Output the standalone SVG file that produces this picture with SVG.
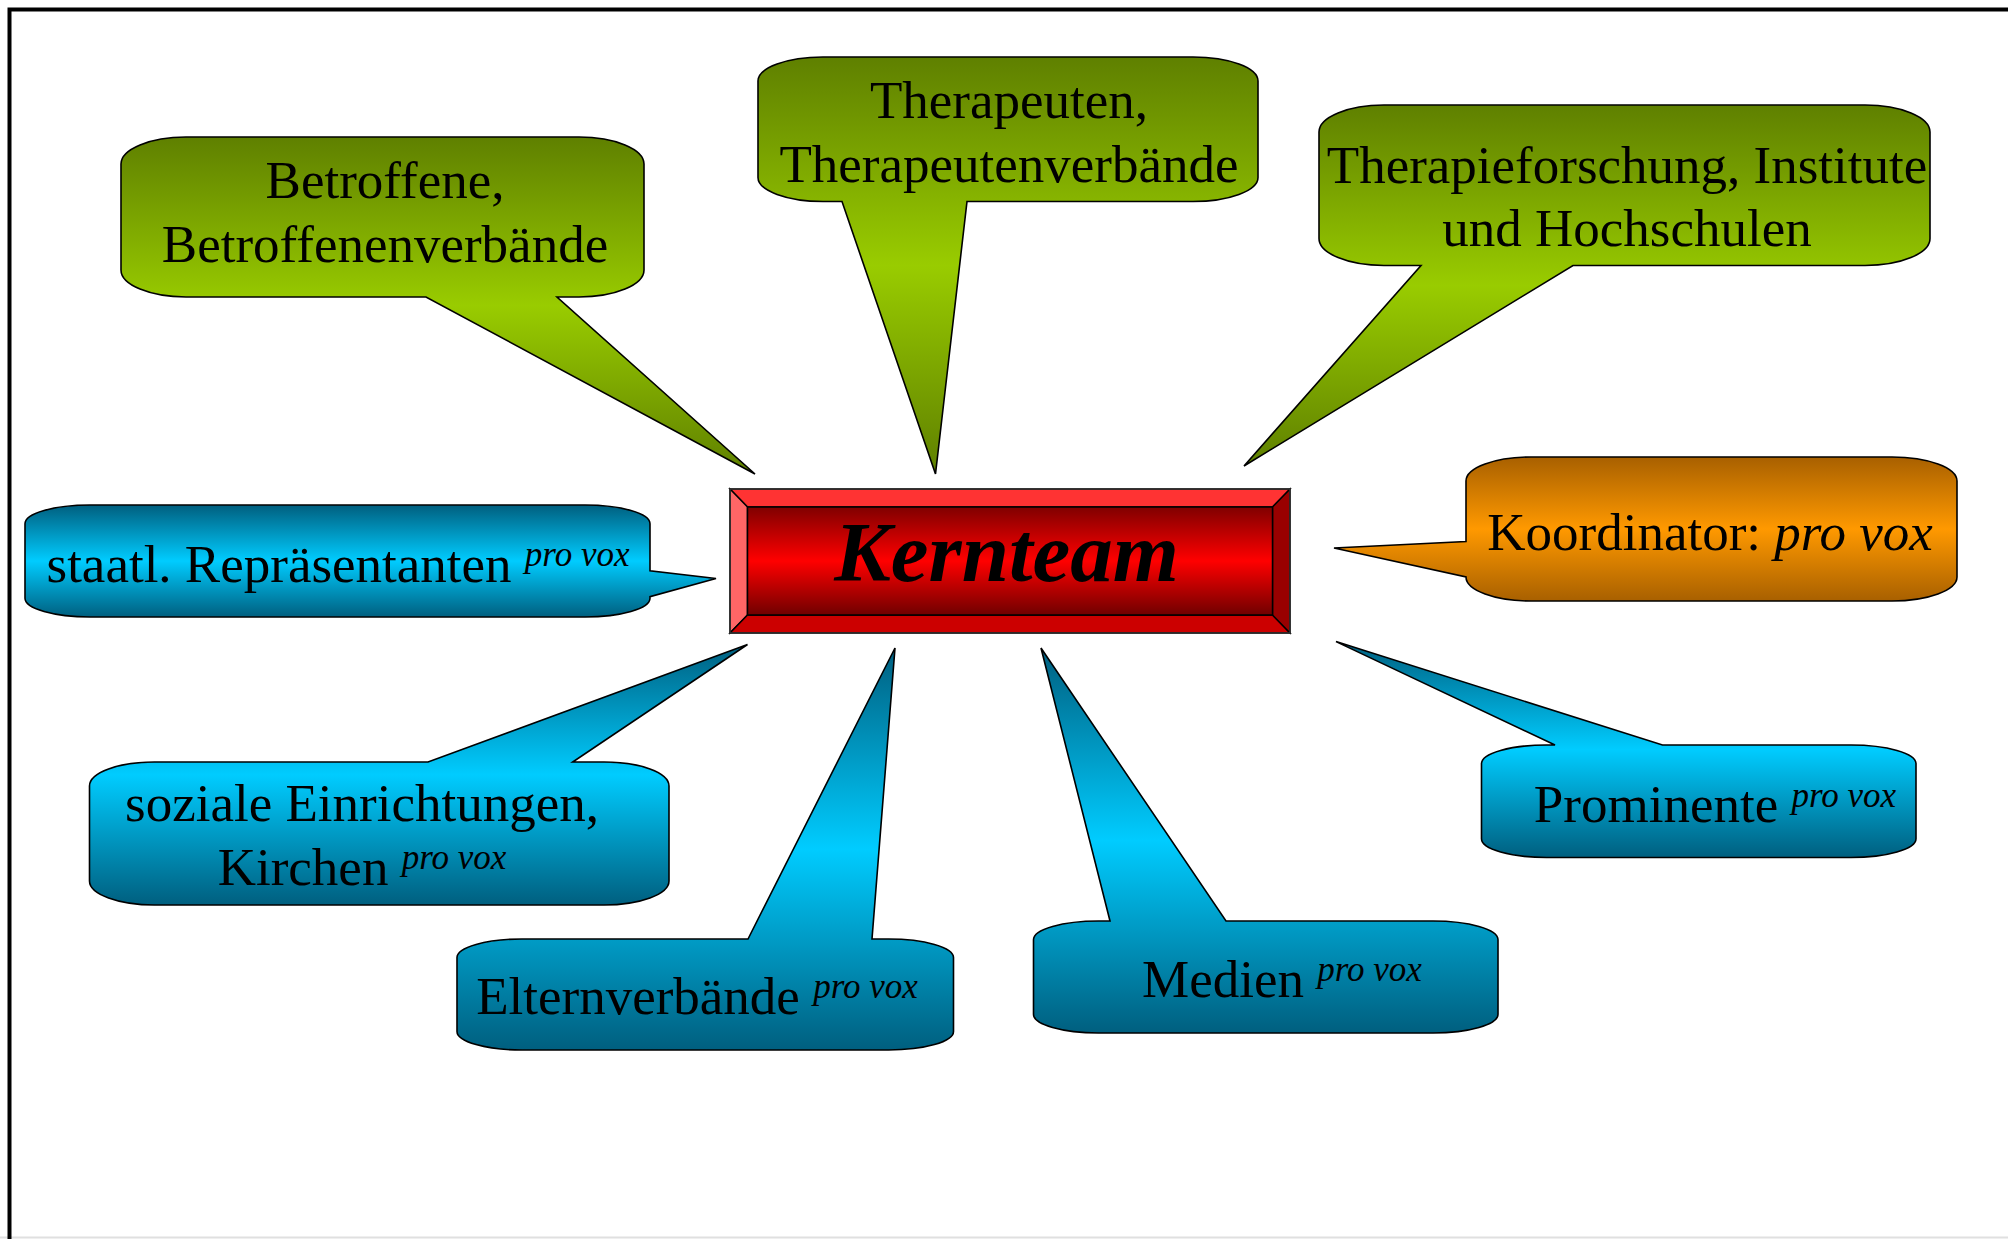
<svg xmlns="http://www.w3.org/2000/svg" width="2008" height="1239" viewBox="0 0 2008 1239">
<style>
.bubble{stroke:#000;stroke-width:1.6;stroke-linejoin:miter}
.t{font-family:"Liberation Serif","Times New Roman",serif;font-size:53px;text-anchor:middle;fill:#000}
.sup{font-size:35px;font-style:italic}
.it{font-style:italic}
.bev{stroke:#000;stroke-width:1.5;stroke-linejoin:miter}
.kt{font-family:"Liberation Serif","Times New Roman",serif;font-size:85px;font-weight:bold;font-style:italic;text-anchor:middle;fill:#000}
</style>
<defs>
<linearGradient id="gGreen" x1="0" y1="0" x2="0" y2="1"><stop offset="0" stop-color="#5f8000"/><stop offset="0.5" stop-color="#99cc00"/><stop offset="1" stop-color="#5f8000"/></linearGradient>
<linearGradient id="gBlue" x1="0" y1="0" x2="0" y2="1"><stop offset="0" stop-color="#005f7f"/><stop offset="0.5" stop-color="#00ccff"/><stop offset="1" stop-color="#005f7f"/></linearGradient>
<linearGradient id="gOrange" x1="0" y1="0" x2="0" y2="1"><stop offset="0" stop-color="#a86000"/><stop offset="0.5" stop-color="#ff9900"/><stop offset="1" stop-color="#a86000"/></linearGradient>
<linearGradient id="gRed" x1="0" y1="0" x2="0" y2="1"><stop offset="0" stop-color="#800000"/><stop offset="0.5" stop-color="#ff0000"/><stop offset="1" stop-color="#700000"/></linearGradient>
</defs>
<rect x="0" y="0" width="2008" height="1239" fill="#fff"/>
<line x1="0" y1="1237.5" x2="2008" y2="1237.5" stroke="#e0e0e0" stroke-width="2"/>
<path d="M9.5 1239 V9.5 H2008" fill="none" stroke="#000" stroke-width="4"/>

<g id="connectors"></g>

<g id="betroffene">
<path class="bubble" fill="url(#gGreen)" d="M186 137 H579 A65 27 0 0 1 644 164 V270 A65 27 0 0 1 579 297 H557 L755 474 L426 297 H186 A65 27 0 0 1 121 270 V164 A65 27 0 0 1 186 137 Z"/>
<text class="t" x="385" y="198">Betroffene,</text>
<text class="t" x="385" y="261.5">Betroffenenverbände</text>
</g>

<g id="therapeuten">
<path class="bubble" fill="url(#gGreen)" d="M823 57 H1193 A65 24 0 0 1 1258 81 V177.5 A65 24 0 0 1 1193 201.5 H967 L935.5 474 L842 201.5 H823 A65 24 0 0 1 758 177.5 V81 A65 24 0 0 1 823 57 Z"/>
<text class="t" x="1009" y="118">Therapeuten,</text>
<text class="t" x="1009" y="181.5">Therapeutenverbände</text>
</g>

<g id="therapieforschung">
<path class="bubble" fill="url(#gGreen)" d="M1384 105 H1865 A65 27 0 0 1 1930 132 V238.5 A65 27 0 0 1 1865 265.5 H1573 L1244 466 L1421 265.5 H1384 A65 27 0 0 1 1319 238.5 V132 A65 27 0 0 1 1384 105 Z"/>
<text class="t" x="1627" y="183">Therapieforschung, Institute</text>
<text class="t" x="1627" y="246">und Hochschulen</text>
</g>

<g id="koordinator">
<path class="bubble" fill="url(#gOrange)" d="M1531 457 H1892 A65 24 0 0 1 1957 481 V577 A65 24 0 0 1 1892 601 H1531 A65 24 0 0 1 1466 577 L1334 548 L1466 541.5 V481 A65 24 0 0 1 1531 457 Z"/>
<text class="t" x="1710" y="550">Koordinator: <tspan class="it">pro vox</tspan></text>
</g>

<g id="kernteam">
<polygon class="bev" fill="#ff3333" points="730,489 1290,489 1272.5,507 747.5,507"/>
<polygon class="bev" fill="#ff6666" points="730,489 747.5,507 747.5,615 730,633"/>
<polygon class="bev" fill="#cc0000" points="730,633 747.5,615 1272.5,615 1290,633"/>
<polygon class="bev" fill="#990000" points="1290,489 1290,633 1272.5,615 1272.5,507"/>
<rect class="bev" x="747.5" y="507" width="525" height="108" fill="url(#gRed)"/>
<rect x="730" y="489" width="560" height="144" fill="none" stroke="#333" stroke-width="1.5"/>
<text class="kt" x="1006.5" y="581">Kernteam</text>
</g>

<g id="staatl">
<path class="bubble" fill="url(#gBlue)" d="M90 505 H585 A65 18.7 0 0 1 650 523.7 V570.7 L716 578.5 L650 596.7 V598.3 A65 18.7 0 0 1 585 617 H90 A65 18.7 0 0 1 25 598.3 V523.7 A65 18.7 0 0 1 90 505 Z"/>
<text class="t" x="338" y="582">staatl. Repräsentanten <tspan class="sup" dy="-16">pro vox</tspan></text>
</g>

<g id="soziale">
<path class="bubble" fill="url(#gBlue)" d="M154.5 762 H428 L747.5 644.5 L572.7 762 H604 A65 24 0 0 1 669 786 V881 A65 24 0 0 1 604 905 H154.5 A65 24 0 0 1 89.5 881 V786 A65 24 0 0 1 154.5 762 Z"/>
<text class="t" x="362" y="821">soziale Einrichtungen,</text>
<text class="t" x="362" y="885">Kirchen <tspan class="sup" dy="-16">pro vox</tspan></text>
</g>

<g id="elternverbaende">
<path class="bubble" fill="url(#gBlue)" d="M522 939 H748 L895 648 L872 939 H888.5 A65 18.5 0 0 1 953.5 957.5 V1031.5 A65 18.5 0 0 1 888.5 1050 H522 A65 18.5 0 0 1 457 1031.5 V957.5 A65 18.5 0 0 1 522 939 Z"/>
<text class="t" x="697" y="1014">Elternverbände <tspan class="sup" dy="-16">pro vox</tspan></text>
</g>

<g id="medien">
<path class="bubble" fill="url(#gBlue)" d="M1098.5 921 H1110 L1041 648 L1226 921 H1433 A65 18.7 0 0 1 1498 939.7 V1014.3 A65 18.7 0 0 1 1433 1033 H1098.5 A65 18.7 0 0 1 1033.5 1014.3 V939.7 A65 18.7 0 0 1 1098.5 921 Z"/>
<text class="t" x="1282" y="997">Medien <tspan class="sup" dy="-16">pro vox</tspan></text>
</g>

<g id="prominente">
<path class="bubble" fill="url(#gBlue)" d="M1546.5 745 H1555 L1336 641.6 L1662.5 745 H1851 A65 18.7 0 0 1 1916 763.7 V838.8 A65 18.7 0 0 1 1851 857.5 H1546.5 A65 18.7 0 0 1 1481.5 838.8 V763.7 A65 18.7 0 0 1 1546.5 745 Z"/>
<text class="t" x="1715" y="822">Prominente <tspan class="sup" dy="-15">pro vox</tspan></text>
</g>
</svg>
